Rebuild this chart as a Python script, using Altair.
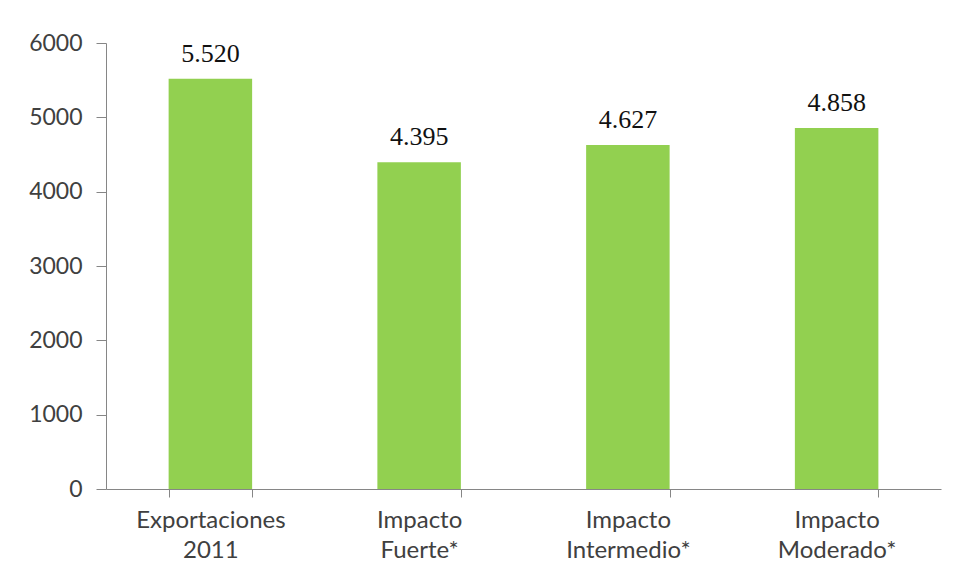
import altair as alt
import pandas as pd

categories = ["Exportaciones\n2011", "Impacto\nFuerte*", "Impacto\nIntermedio*", "Impacto\nModerado*"]
values = [5520, 4395, 4627, 4858]
value_labels = ["5.520", "4.395", "4.627", "4.858"]
y_ticks = [0, 1000, 2000, 3000, 4000, 5000, 6000]

df = pd.DataFrame({"cat": categories, "val": values, "lbl": value_labels})

x_enc = alt.X(
    "cat:N",
    sort=None,
    title=None,
    scale=alt.Scale(paddingInner=0.6, paddingOuter=0.3),
    axis=alt.Axis(
        labelAngle=0,
        labelExpr="split(datum.label, '\\n')",
        labelFont="Lato",
        labelFontSize=24,
        labelColor="#404040",
        labelLineHeight=30,
        labelPadding=11,
        labelBaseline="top",
        tickBand="extent",
        tickSize=8,
        tickColor="#868686",
        domainColor="#868686",
        grid=False,
    ),
)

y_enc = alt.Y(
    "val:Q",
    title=None,
    scale=alt.Scale(domain=[0, 6000]),
    axis=alt.Axis(
        values=y_ticks,
        format="d",
        labelFont="Lato",
        labelFontSize=23,
        labelColor="#404040",
        labelPadding=14,
        tickSize=10,
        tickColor="#868686",
        domainColor="#868686",
        grid=False,
    ),
)

bars = alt.Chart(df).mark_bar(color="#92d050").encode(x=x_enc, y=y_enc)

text = alt.Chart(df).mark_text(
    font="Liberation Serif", fontSize=26, color="#111111", baseline="alphabetic", dy=-17
).encode(x=alt.X("cat:N", sort=None), y=alt.Y("val:Q"), text="lbl:N")

chart = (
    alt.layer(bars, text)
    .properties(
        width=835,
        height=446,
        autosize=alt.AutoSizeParams(type="none"),
        padding={"left": 98, "top": 35, "right": 8, "bottom": 92},
        background="white",
    )
    .configure_view(stroke=None)
)

chart.save("out.html", embed_options={"renderer": "svg", "actions": False})
